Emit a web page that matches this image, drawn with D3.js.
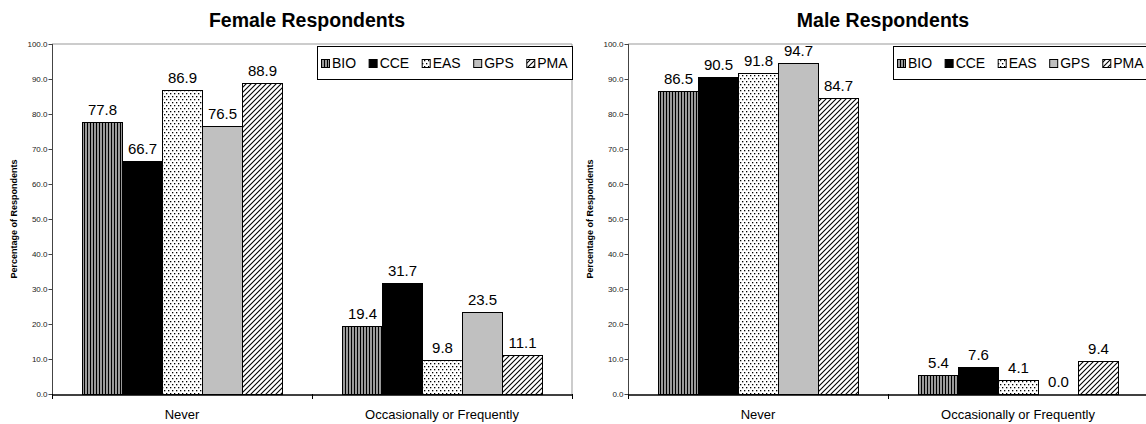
<!DOCTYPE html>
<html><head><meta charset="utf-8">
<script src="https://cdnjs.cloudflare.com/ajax/libs/d3/7.8.5/d3.min.js"></script>
<style>body{margin:0;background:#fff}svg{display:block;font-family:Arial,"Liberation Sans",sans-serif}</style>
</head><body><svg id="c" width="1146" height="424"></svg>
<script>
const categories = ["Never", "Occasionally or Frequently"];
const seriesNames = ["BIO", "CCE", "EAS", "GPS", "PMA"];
const femaleNever = [77.8, 66.7, 86.9, 76.5, 88.9];
const femaleOccasional = [19.4, 31.7, 9.8, 23.5, 11.1];
const maleNever = [86.5, 90.5, 91.8, 94.7, 84.7];
const maleOccasional = [5.4, 7.6, 4.1, 0.0, 9.4];
const yTicks = [0, 10, 20, 30, 40, 50, 60, 70, 80, 90, 100];
const titles = ["Female Respondents", "Male Respondents"];
const yLabel = "Percentage of Respondents";

const svg = d3.select("#c");
const defs = svg.append("defs");
// patterns
let p = defs.append("pattern").attr("id","pBIO").attr("patternUnits","userSpaceOnUse").attr("width",3).attr("height",4);
p.append("rect").attr("width",3).attr("height",4).attr("fill","#9a9a9a");
p.append("rect").attr("width",1).attr("height",4).attr("fill","#000");
p = defs.append("pattern").attr("id","pEAS").attr("patternUnits","userSpaceOnUse").attr("width",4).attr("height",6);
p.append("rect").attr("width",4).attr("height",6).attr("fill","#fff");
p.append("rect").attr("x",0).attr("y",0).attr("width",1.3).attr("height",1.3).attr("fill","#000");
p.append("rect").attr("x",2).attr("y",3).attr("width",1.3).attr("height",1.3).attr("fill","#000");
p = defs.append("pattern").attr("id","pPMA").attr("patternUnits","userSpaceOnUse").attr("width",5).attr("height",5);
p.append("rect").attr("width",5).attr("height",5).attr("fill","#fff");
p.append("path").attr("d","M0,5 L5,0 M-1,1 L1,-1 M4,6 L6,4").attr("stroke","#000").attr("stroke-width",1.1);
const fills = {BIO:"url(#pBIO)", CCE:"#000", EAS:"url(#pEAS)", GPS:"#c0c0c0", PMA:"url(#pPMA)"};

function drawChart(ox, title, data) {
  const left = ox + 52, right = ox + 572, top = 44, bottom = 394;
  const g = svg.append("g");
  const y = d3.scaleLinear().domain([0, 100]).range([bottom, top]);
  const x0 = d3.scaleBand().domain(categories).range([left, right]);
  const x1 = d3.scaleBand().domain(seriesNames).range([30, 230]);

  // plot border (gray)
  g.append("path").attr("d", `M${left},${top}H${right}V${bottom}`).attr("fill","none").attr("stroke","#999").attr("stroke-width",1);

  // title
  g.append("text").attr("x", ox + 307).attr("y", 27).attr("text-anchor","middle")
    .attr("font-size", 19.5).attr("font-weight","bold").text(title);

  // y axis label
  g.append("text").attr("transform", `translate(${ox + 17},${(top + bottom) / 2}) rotate(-90)`)
    .attr("text-anchor","middle").attr("font-size", 9).attr("font-weight","bold").text(yLabel);

  // bars
  categories.forEach((c, ci) => {
    const vals = data[ci];
    seriesNames.forEach((s, si) => {
      const v = vals[si];
      const bx = x0(c) + x1(s);
      if (v > 0) {
        g.append("rect").attr("x", bx + 0.5).attr("y", Math.round(y(v)) + 0.5)
          .attr("width", x1.bandwidth()).attr("height", Math.round(y(0)) - Math.round(y(v)))
          .attr("fill", fills[s]).attr("stroke","#000").attr("stroke-width",1);
      }
      g.append("text").attr("x", bx + x1.bandwidth() / 2 + 0.5).attr("y", y(v) - 7)
        .attr("text-anchor","middle").attr("font-size", 15).text(v.toFixed(1));
    });
  });

  // y axis
  const ya = g.append("g").attr("transform", `translate(${left + 0.5},0)`)
    .call(d3.axisLeft(y).tickValues(yTicks).tickSize(4).tickSizeOuter(0).tickFormat(d => d.toFixed(1)));
  ya.select(".domain").attr("stroke","#444").attr("d", `M0,${top}V${bottom + 5}`);
  ya.selectAll(".tick line").attr("stroke","#444");
  ya.selectAll(".tick text").attr("font-size", 8).attr("fill","#222").attr("font-family","Arial, 'Liberation Sans', sans-serif").attr("x", -5);

  // x axis
  const xa = g.append("g").attr("transform", `translate(0,${bottom + 0.5})`)
    .call(d3.axisBottom(x0).tickSize(0).tickSizeOuter(0));
  xa.select(".domain").attr("stroke","#000").attr("stroke-width",1.5);
  xa.selectAll(".tick text").attr("font-size", 13).attr("fill","#000").attr("dy", 0).attr("y", 24)
    .attr("font-family","Arial, 'Liberation Sans', sans-serif");
  // separators between categories
  const seps = categories.map(c => x0(c)).concat([right]);
  g.selectAll(null).data(seps).enter().append("line")
    .attr("x1", d => Math.round(d) + 0.5).attr("x2", d => Math.round(d) + 0.5)
    .attr("y1", bottom).attr("y2", bottom + 5).attr("stroke","#000");

  // legend
  const lg = g.append("g");
  lg.append("rect").attr("x", ox + 317.5).attr("y", 46.5).attr("width", 255).attr("height", 33)
    .attr("fill","#fff").attr("stroke","#000");
  let lx = ox + 321;
  seriesNames.forEach(s => {
    lg.append("rect").attr("x", lx + 0.5).attr("y", 59.5).attr("width", 8).attr("height", 8)
      .attr("fill", fills[s]).attr("stroke","#000");
    const t = lg.append("text").attr("x", lx + 11).attr("y", 68).attr("font-size", 14).text(s);
    lx += 11 + t.node().getComputedTextLength() + 12.5;
  });
}

drawChart(0, titles[0], [femaleNever, femaleOccasional]);
drawChart(576, titles[1], [maleNever, maleOccasional]);
</script></body></html>
